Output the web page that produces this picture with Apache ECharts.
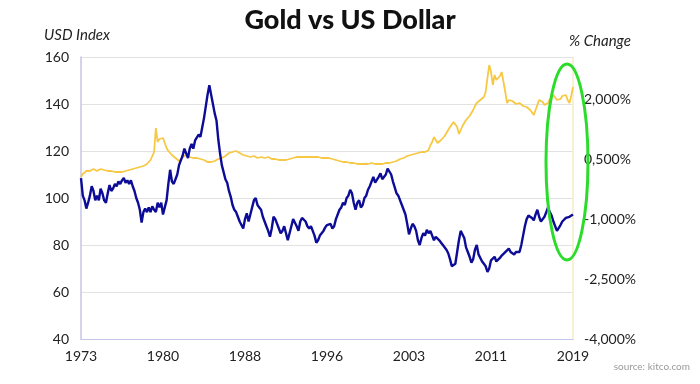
<!DOCTYPE html>
<html>
<head>
<meta charset="utf-8">
<script src="https://cdn.jsdelivr.net/npm/echarts@6/dist/echarts.min.js"></script>
<style>html,body{margin:0;padding:0;background:#fff}#c{width:700px;height:384px}</style>
</head>
<body>
<div id="c"></div>
<script>
// bi-monthly observations, Jan 1973 .. Jan 2019
var startYear = 1973, endYear = 2019, perYear = 6;
var categories = [];
for (var y = startYear; y <= endYear; y++) {
  for (var k = 0; k < perYear; k++) {
    if (y === endYear && k > 0) break;
    var m = k * 2 + 1;
    categories.push(y + '-' + (m < 10 ? '0' + m : m));
  }
}
var xTickYears = ['1973', '1980', '1988', '1996', '2003', '2011', '2019'];

// US Dollar index (left axis)
var usdIndex = [
  108.5, 101, 99, 95.5, 98, 101,
  105, 103, 99, 101, 99, 104,
  102, 99, 98, 102, 105.5, 103,
  104, 106, 105, 107, 106, 107.5,
  108.5, 106.5, 107.5, 106, 107.5, 105,
  103, 100, 98, 95, 89.5, 94,
  95.5, 94, 96, 94, 96.5, 95,
  94, 98, 96, 98, 93, 96,
  99, 106, 112, 107, 106, 108,
  110, 114, 116, 118, 121, 119,
  117, 121, 123, 121, 124.5, 124,
  127, 126, 130, 134, 139, 144,
  148, 144, 140, 136, 133, 125,
  119, 114, 111, 108, 106.5, 103,
  100.5, 97, 95, 94, 92, 90,
  88.5, 87, 91, 93.5, 90, 93,
  96, 99, 100, 97, 96, 95,
  92, 90, 88, 86, 83.5, 87,
  92, 91, 89, 87, 85, 86,
  88, 85, 82, 85, 88, 91,
  91, 88, 86, 90, 91.5, 91,
  90, 88, 87, 88, 86, 84,
  81, 82, 84, 85, 86, 87.5,
  88.5, 88, 89, 87, 88, 91,
  93, 95, 96, 98, 97, 100,
  101, 103.5, 102, 98, 95, 98,
  99, 96, 97, 100, 101, 103.5,
  105, 107, 109, 106.5, 107, 109,
  110.5, 108, 107.5, 110, 112.5, 113,
  110, 107, 104.5, 102, 101, 99,
  97, 95, 93, 89, 84.5, 87,
  89, 88, 86, 82, 80, 83,
  85, 84, 86.5, 85, 86, 84,
  82, 83.5, 83, 82, 81, 80,
  80, 78, 76.5, 74, 71, 70.5,
  72, 77, 82, 86, 86.5, 83,
  79, 77, 75, 72.5, 74, 78,
  80, 76, 75.5, 73, 72, 71,
  68.5, 70, 73.5, 74, 75, 73,
  73, 74.5, 75.5, 76, 77, 76.5,
  78.5, 77, 76.5, 76, 77, 76.5,
  77, 80, 84, 88, 91, 92.5,
  93, 91.5, 90.5, 93, 95, 92,
  90, 89.5, 92, 94, 96, 94,
  92.5, 90, 89.5, 86, 85.5, 88.5,
  90, 89.5, 91.5, 91, 92, 92.5,
  93
];

// Gold, % change (right axis)
var goldChange = [
  0.05, 0.125, 0.175, 0.2, 0.225, 0.2,
  0.225, 0.25, 0.225, 0.2, 0.225, 0.25,
  0.25, 0.225, 0.2, 0.2, 0.175, 0.2,
  0.175, 0.175, 0.15, 0.175, 0.15, 0.175,
  0.175, 0.2, 0.2, 0.225, 0.225, 0.25,
  0.25, 0.275, 0.275, 0.3, 0.3, 0.325,
  0.35, 0.375, 0.425, 0.475, 0.525, 0.675,
  1.275, 0.925, 1.0, 1.05, 1.025, 0.9,
  0.775, 0.7, 0.65, 0.6, 0.55, 0.525,
  0.5, 0.45, 0.475, 0.55, 0.575, 0.6,
  0.575, 0.55, 0.55, 0.525, 0.525, 0.525,
  0.525, 0.5, 0.5, 0.475, 0.45, 0.425,
  0.4, 0.425, 0.425, 0.45, 0.475, 0.5,
  0.5, 0.525, 0.55, 0.575, 0.6, 0.65,
  0.65, 0.675, 0.675, 0.7, 0.65, 0.65,
  0.625, 0.6, 0.6, 0.575, 0.575, 0.55,
  0.55, 0.575, 0.55, 0.525, 0.55, 0.55,
  0.55, 0.525, 0.525, 0.55, 0.525, 0.5,
  0.5, 0.5, 0.475, 0.475, 0.5, 0.475,
  0.475, 0.475, 0.475, 0.5, 0.5, 0.525,
  0.55, 0.55, 0.575, 0.55, 0.55, 0.55,
  0.55, 0.55, 0.525, 0.55, 0.55, 0.55,
  0.55, 0.55, 0.55, 0.525, 0.525, 0.525,
  0.525, 0.525, 0.5, 0.5, 0.5, 0.475,
  0.475, 0.45, 0.45, 0.425, 0.425, 0.425,
  0.4, 0.4, 0.425, 0.4, 0.4, 0.375,
  0.375, 0.375, 0.4, 0.375, 0.375, 0.375,
  0.375, 0.4, 0.375, 0.375, 0.375, 0.375,
  0.375, 0.375, 0.375, 0.4, 0.375, 0.4,
  0.4, 0.425, 0.425, 0.45, 0.475, 0.5,
  0.525, 0.525, 0.55, 0.575, 0.6, 0.6,
  0.625, 0.625, 0.625, 0.65, 0.65, 0.675,
  0.65, 0.675, 0.7, 0.725, 0.85, 0.925,
  1.05, 1.0, 0.9, 0.95, 0.975, 1.025,
  1.075, 1.15, 1.225, 1.3, 1.35, 1.425,
  1.375, 1.3, 1.125, 1.225, 1.325, 1.4,
  1.475, 1.525, 1.575, 1.65, 1.725, 1.825,
  1.9, 1.95, 1.975, 2.0, 2.05, 2.175,
  2.525, 2.85, 2.675, 2.35, 2.6, 2.475,
  2.425, 2.575, 2.675, 2.425, 2.175, 1.9,
  1.975, 2.025, 1.95, 1.925, 1.875, 1.85,
  1.9, 1.875, 1.825, 1.775, 1.8, 1.775,
  1.725, 1.675, 1.6, 1.725, 1.85, 1.975,
  2.025, 1.925, 1.85, 1.875, 1.9, 2.0,
  2.025, 2.1, 2.05, 1.975, 1.925, 2.0,
  2.075, 2.05, 2.1, 1.975, 1.9, 2.075,
  2.3
];

var leftTicks = { min: 40, max: 160, step: 20 };
var rightTicks = { min: -4, max: 3.05, step: 1.5 };

var chart = echarts.init(document.getElementById('c'), null, { renderer: 'canvas' });
var font = 'Lato, "Noto Sans", sans-serif';
chart.setOption({
  animation: false,
  backgroundColor: '#ffffff',
  title: {
    text: 'Gold vs US Dollar',
    left: 'center',
    top: 2,
    textStyle: { fontFamily: font, fontWeight: 900, fontSize: 27, color: '#111' }
  },
  grid: { left: 81, right: 127, top: 57, bottom: 45 },
  xAxis: {
    type: 'category',
    data: categories,
    boundaryGap: false,
    axisLine: { onZero: false, lineStyle: { color: '#c4c4e6', width: 1 } },
    axisTick: { show: false },
    axisLabel: {
      interval: 45,
      margin: 10,
      fontFamily: font, fontSize: 14, color: '#222',
      formatter: function (v) { return v.slice(0, 4); }
    },
    splitLine: { show: false }
  },
  yAxis: [
    {
      type: 'value',
      min: leftTicks.min, max: leftTicks.max, interval: leftTicks.step,
      name: 'USD Index',
      nameLocation: 'end',
      nameGap: 14,
      nameTextStyle: { fontFamily: font, fontStyle: 'italic', fontSize: 15, color: '#222', align: 'center', padding: [0, 8, 0, 0] },
      axisLine: { show: true, lineStyle: { color: '#c4c4e6', width: 1.5 } },
      axisTick: { show: false },
      axisLabel: { margin: 12, fontFamily: font, fontSize: 14, color: '#222' },
      splitLine: { show: true, lineStyle: { color: '#e2e2e2', width: 1 } }
    },
    {
      type: 'value',
      min: rightTicks.min, max: rightTicks.max, interval: rightTicks.step,
      position: 'right',
      name: '% Change',
      nameLocation: 'end',
      nameGap: 8,
      nameTextStyle: { fontFamily: font, fontStyle: 'italic', fontSize: 15, color: '#222', align: 'left', padding: [0, 0, 0, -4] },
      axisLine: { show: true, onZero: false, lineStyle: { color: '#f6edc4', width: 1.5 } },
      axisTick: { show: false },
      axisLabel: {
        margin: 11, fontFamily: font, fontSize: 14, color: '#222',
        showMaxLabel: false,
        formatter: function (v) { return v.toFixed(3).replace('.', ',') + '%'; }
      },
      splitLine: { show: false }
    }
  ],
  series: [
    {
      name: 'Gold',
      type: 'line',
      yAxisIndex: 1,
      data: goldChange,
      showSymbol: false,
      lineStyle: { color: '#f7c844', width: 1.8 },
      itemStyle: { color: '#f7c844' },
      z: 2
    },
    {
      name: 'USD Index',
      type: 'line',
      yAxisIndex: 0,
      data: usdIndex,
      showSymbol: false,
      lineStyle: { color: '#0c0c96', width: 2.4 },
      itemStyle: { color: '#0c0c96' },
      z: 3
    }
  ],
  graphic: [
    {
      type: 'ellipse',
      shape: { cx: 567, cy: 162, rx: 21, ry: 98 },
      style: { fill: 'none', stroke: '#2bdc2b', lineWidth: 3 },
      z: 10
    },
    {
      type: 'text',
      right: 10,
      top: 362,
      style: { text: 'source: kitco.com', fill: '#9a9a9a', font: '10px ' + font }
    }
  ]
});
</script>
</body>
</html>
